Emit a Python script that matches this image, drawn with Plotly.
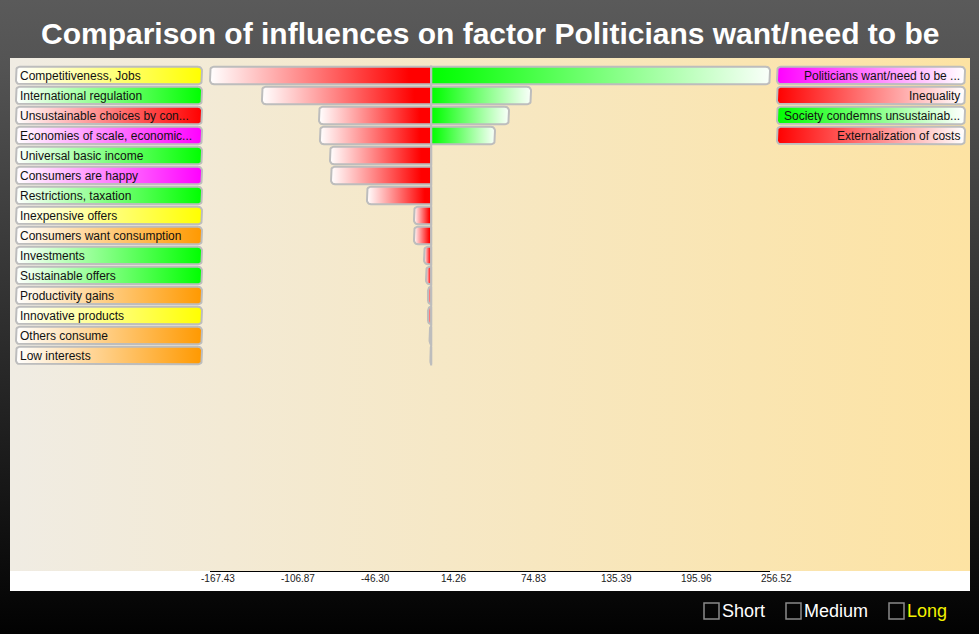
import math
import plotly.graph_objects as go

# ---------------- data ----------------
title_text = "Comparison of influences on factor Politicians want/need to be"

factors = [
    "Competitiveness, Jobs", "International regulation", "Unsustainable choices by con...",
    "Economies of scale, economic...", "Universal basic income", "Consumers are happy",
    "Restrictions, taxation", "Inexpensive offers", "Consumers want consumption",
    "Investments", "Sustainable offers", "Productivity gains", "Innovative products",
    "Others consume", "Low interests",
]
factor_colors = [
    "#ffff00", "#00ff00", "#ff0000", "#ff00ff", "#00ff00", "#ff00ff", "#00ff00",
    "#ffff00", "#ff9900", "#00ff00", "#00ff00", "#ff9900", "#ffff00", "#ff9900", "#ff9900",
]
negative_values = [-167.43, -128.1, -84.9, -84.2, -76.6, -75.8, -48.6, -13.0, -13.0,
                   -5.4, -3.9, -2.4, -2.4, -1.2, -0.6]
positive_values = [256.52, 75.6, 58.9, 48.3, 0, 0, 0, 0, 0, 0, 0, 0, 0, 0, 0]

legend_labels = ["Politicians want/need to be ...", "Inequality",
                 "Society condemns unsustainab...", "Externalization of costs"]
legend_colors = ["#ff00ff", "#ff0000", "#00ff00", "#ff0000"]

tick_values = [-167.43, -106.87, -46.30, 14.26, 74.83, 135.39, 195.96, 256.52]
tick_labels = ["-167.43", "-106.87", "-46.30", "14.26", "74.83", "135.39", "195.96", "256.52"]

horizons = ["Short", "Medium", "Long"]
horizon_active = [False, False, True]

# ---------------- geometry / style ----------------
W, H = 979, 634
FONT = "Liberation Sans, Arial, Helvetica, sans-serif"
PLOT_L, PLOT_R = 210, 770          # pixel span of the value axis
ROW0, ROW_H = 75.5, 20.0           # first row centre, row pitch (px)
PAD = 10
BORDER = "#bdbdbd"

lo, hi = tick_values[0], tick_values[-1]
ux = (hi - lo) / (PLOT_R - PLOT_L)          # data units per px
x2_range = [lo - PAD * ux, hi + PAD * ux]
x2_domain = [(PLOT_L - PAD) / W, (PLOT_R + PAD) / W]
y2_range = [(H - ROW0) / ROW_H, -ROW0 / ROW_H]
HALF = 0.44


def rounded_box(x0, x1, y0, y1, rx, ry, round_lo=True, round_hi=True, n=6):
    w = x1 - x0
    rx = max(0.0, min(rx, w / (2 if (round_lo and round_hi) else 1)))
    ry = min(ry, (y1 - y0) / 2)
    xs, ys = [], []

    def arc(cx, cy, a0, a1):
        for k in range(n + 1):
            a = math.radians(a0 + (a1 - a0) * k / n)
            xs.append(cx + rx * math.cos(a))
            ys.append(cy + ry * math.sin(a))

    if round_hi:
        arc(x1 - rx, y0 + ry, 270, 360)
        arc(x1 - rx, y1 - ry, 0, 90)
    else:
        xs.extend([x1, x1]); ys.extend([y0, y1])
    if round_lo:
        arc(x0 + rx, y1 - ry, 90, 180)
        arc(x0 + rx, y0 + ry, 180, 270)
    else:
        xs.extend([x0, x0]); ys.extend([y1, y0])
    xs.append(xs[0]); ys.append(ys[0])
    return xs, ys


fig = go.Figure()

# ---- background (pixel subplot x/y) ----
fig.add_trace(go.Scatter(
    x=[0, W, W, 0, 0], y=[0, 0, H, H, 0], xaxis="x", yaxis="y",
    mode="lines", line=dict(width=0), fill="toself",
    fillgradient=dict(type="vertical", colorscale=[[0, "#020202"], [0.9, "#545454"], [1, "#5a5a5a"]]),
    hoverinfo="skip"))
fig.add_trace(go.Scatter(
    x=[10, 970, 970, 10, 10], y=[58, 58, 571, 571, 58], xaxis="x", yaxis="y",
    mode="lines", line=dict(width=0), fill="toself",
    fillgradient=dict(type="horizontal", colorscale=[[0, "#f0ece3"], [1, "#fde3a3"]]),
    hoverinfo="skip"))
fig.add_trace(go.Scatter(
    x=[10, 970, 970, 10, 10], y=[571, 571, 591, 591, 571], xaxis="x", yaxis="y",
    mode="lines", line=dict(width=0), fill="toself", fillcolor="#ffffff",
    hoverinfo="skip"))

annotations = []

# ---- factor label boxes (pixel x, row y2) ----
for i, (lab, col) in enumerate(zip(factors, factor_colors)):
    xs, ys = rounded_box(16, 202, i - HALF, i + HALF, 4, 4 / ROW_H)
    fig.add_trace(go.Scatter(
        x=xs, y=ys, xaxis="x", yaxis="y2", mode="lines",
        line=dict(color=BORDER, width=2), fill="toself",
        fillgradient=dict(type="horizontal", colorscale=[[0, "#ffffff"], [1, col]]),
        hoverinfo="skip"))
    annotations.append(dict(x=18, y=i, xref="x", yref="y2", text=lab, showarrow=False,
                            xanchor="left", yanchor="middle",
                            font=dict(family=FONT, size=12, color="#111111")))

for i, (lab, col) in enumerate(zip(legend_labels, legend_colors)):
    xs, ys = rounded_box(777, 965, i - HALF, i + HALF, 4, 4 / ROW_H)
    fig.add_trace(go.Scatter(
        x=xs, y=ys, xaxis="x", yaxis="y2", mode="lines",
        line=dict(color=BORDER, width=2), fill="toself",
        fillgradient=dict(type="horizontal", colorscale=[[0, col], [1, "#ffffff"]]),
        hoverinfo="skip"))
    annotations.append(dict(x=962, y=i, xref="x", yref="y2", text=lab, showarrow=False,
                            xanchor="right", yanchor="middle",
                            font=dict(family=FONT, size=12, color="#111111")))

# ---- bars (value axis x2, row axis y2) ----
for i, v in enumerate(negative_values):
    if v >= 0:
        continue
    xs, ys = rounded_box(v, 0, i - HALF, i + HALF, 4 * ux, 4 / ROW_H,
                         round_lo=True, round_hi=False)
    fig.add_trace(go.Scatter(
        x=xs, y=ys, xaxis="x2", yaxis="y2", mode="lines",
        line=dict(color=BORDER, width=2), fill="toself",
        fillgradient=dict(type="horizontal",
                          colorscale=[[0, "#ffffff"], [0.9, "#ff0000"], [1, "#ff0000"]]),
        hoverinfo="skip"))
for i, v in enumerate(positive_values):
    if v <= 0:
        continue
    xs, ys = rounded_box(0, v, i - HALF, i + HALF, 4 * ux, 4 / ROW_H,
                         round_lo=False, round_hi=True)
    fig.add_trace(go.Scatter(
        x=xs, y=ys, xaxis="x2", yaxis="y2", mode="lines",
        line=dict(color=BORDER, width=2), fill="toself",
        fillgradient=dict(type="horizontal",
                          colorscale=[[0, "#00ff00"], [0.08, "#10ff10"], [1, "#fafffa"]]),
        hoverinfo="skip"))
fig.add_trace(go.Scatter(
    x=[0, 0], y=[-0.5, len(factors) - 0.5], xaxis="x2", yaxis="y2", mode="lines",
    line=dict(color=BORDER, width=2), hoverinfo="skip"))

# ---- value axis tick labels ----
for tv, tl in zip(tick_values, tick_labels):
    annotations.append(dict(x=tv, y=578, xref="x2", yref="y", text=tl, showarrow=False,
                            xanchor="left", yanchor="middle", xshift=-11,
                            font=dict(family=FONT, size=10, color="#222222")))

# ---- title ----
annotations.append(dict(x=W / 2, y=33, xref="x", yref="y", text="<b>" + title_text + "</b>",
                        showarrow=False, xanchor="center", yanchor="middle",
                        font=dict(family=FONT, size=30, color="#ffffff")))

# ---- time-horizon checkboxes ----
shapes = [dict(type="line", xref="x2", yref="y", x0=lo, x1=hi, y0=571.5, y1=571.5,
               line=dict(color="#000000", width=1))]
box_x = [704, 786, 889]
for bx, name, active in zip(box_x, horizons, horizon_active):
    shapes.append(dict(type="rect", xref="x", yref="y", x0=bx, x1=bx + 15, y0=603, y1=619,
                       line=dict(color="#8a8a8a", width=1.5), fillcolor="rgba(0,0,0,0)"))
    annotations.append(dict(x=bx + 16, y=611, xref="x", yref="y", text=name, showarrow=False,
                            xanchor="left", yanchor="middle",
                            font=dict(family=FONT, size=18,
                                      color="#f2f200" if active else "#ffffff")))

fig.update_layout(
    width=W, height=H, margin=dict(l=0, r=0, t=0, b=0),
    paper_bgcolor="#000000", plot_bgcolor="rgba(0,0,0,0)",
    showlegend=False, hovermode=False,
    xaxis=dict(domain=[0, 1], range=[0, W], visible=False, fixedrange=True, anchor="y"),
    yaxis=dict(domain=[0, 1], range=[H, 0], visible=False, fixedrange=True, anchor="x"),
    yaxis2=dict(domain=[0, 1], range=y2_range, visible=False, fixedrange=True, anchor="x"),
    xaxis2=dict(domain=x2_domain, range=x2_range, visible=False, fixedrange=True, anchor="y2"),
    annotations=annotations, shapes=shapes,
)

fig.write_html("out.html", config={"displayModeBar": False})
